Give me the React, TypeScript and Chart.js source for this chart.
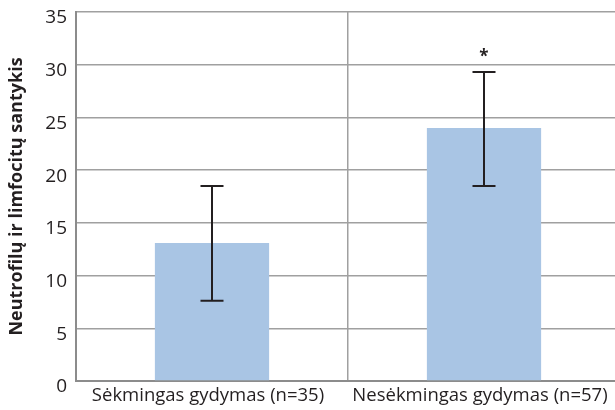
import React, { useEffect, useRef } from "react";
import { Chart, registerables } from "chart.js";

Chart.register(...registerables);

const categories = ["Sėkmingas gydymas (n=35)", "Nesėkmingas gydymas (n=57)"];
const means = [13.1, 24.0];
const errLow = [7.6, 18.5];
const errHigh = [18.5, 29.3];
const significance = ["", "*"];
const yTitle = "Neutrofilų ir limfocitų santykis";
const yMin = 0;
const yMax = 35;
const yStep = 5;

const FONT = "'Open Sans', 'Noto Sans', sans-serif";

const errorBarPlugin = {
  id: "errorBars",
  afterDatasetsDraw(chart: any) {
    const ctx = chart.ctx;
    const meta = chart.getDatasetMeta(0);
    const y = chart.scales.y;
    ctx.save();
    ctx.strokeStyle = "#231f20";
    ctx.lineWidth = 2;
    meta.data.forEach((bar: any, i: number) => {
      const x = bar.x;
      const yl = y.getPixelForValue(errLow[i]);
      const yh = y.getPixelForValue(errHigh[i]);
      const cap = 11.5;
      ctx.beginPath();
      ctx.moveTo(x, yl);
      ctx.lineTo(x, yh);
      ctx.moveTo(x - cap, yl);
      ctx.lineTo(x + cap, yl);
      ctx.moveTo(x - cap, yh);
      ctx.lineTo(x + cap, yh);
      ctx.stroke();
      if (significance[i]) {
        ctx.fillStyle = "#231f20";
        ctx.font = `bold 17px ${FONT}`;
        ctx.textAlign = "center";
        ctx.textBaseline = "middle";
        ctx.fillText(significance[i], x, yh - 15);
      }
    });
    ctx.restore();
  },
};

export default function App() {
  const ref = useRef<HTMLCanvasElement>(null);
  useEffect(() => {
    const canvas = ref.current!;
    const chart = new Chart(canvas, {
      type: "bar",
      data: {
        labels: categories,
        datasets: [
          {
            data: means,
            backgroundColor: "#a9c5e4",
            borderWidth: 0,
            barPercentage: 0.42,
            categoryPercentage: 1,
          },
        ],
      },
      options: {
        animation: false,
        responsive: false,
        devicePixelRatio: 1,
        layout: { padding: { top: 12, right: 5, left: 0, bottom: 0 } },
        plugins: { legend: { display: false }, tooltip: { enabled: false } },
        scales: {
          x: {
            grid: { color: "#a0a0a0", lineWidth: 1.5, drawTicks: false, offset: true },
            border: { color: "#8c8c8c", width: 2 },
            ticks: {
              color: "#231f20",
              font: { family: FONT, size: 18.5 },
              padding: 4,
              labelOffset: -4,
              maxRotation: 0,
              autoSkip: false,
            },
            afterFit: (s: any) => {
              s.height = 29;
              s.paddingLeft = 0;
              s.paddingRight = 0;
            },
          },
          y: {
            min: yMin,
            max: yMax,
            grid: { color: "#a0a0a0", lineWidth: 1.5, drawTicks: false },
            border: { color: "#8c8c8c", width: 2 },
            ticks: {
              stepSize: yStep,
              color: "#231f20",
              font: { family: FONT, size: 19 },
              padding: 9,
              labelOffset: 6,
            },
            title: {
              display: true,
              text: yTitle,
              color: "#231f20",
              font: { family: FONT, size: 18, weight: "bold" },
              padding: { top: 6, bottom: 0 },
            },
            afterFit: (s: any) => {
              s.width = 76;
              s.paddingTop = 0;
              s.paddingBottom = 0;
            },
          },
        },
      },
      plugins: [errorBarPlugin],
    });
    return () => chart.destroy();
  }, []);
  return (
    <div
      style={{
        position: "absolute",
        left: 0,
        top: 0,
        width: 615,
        height: 410,
        overflow: "hidden",
        background: "#fff",
      }}
    >
      <canvas ref={ref} width={625} height={410} style={{ display: "block" }} />
    </div>
  );
}
